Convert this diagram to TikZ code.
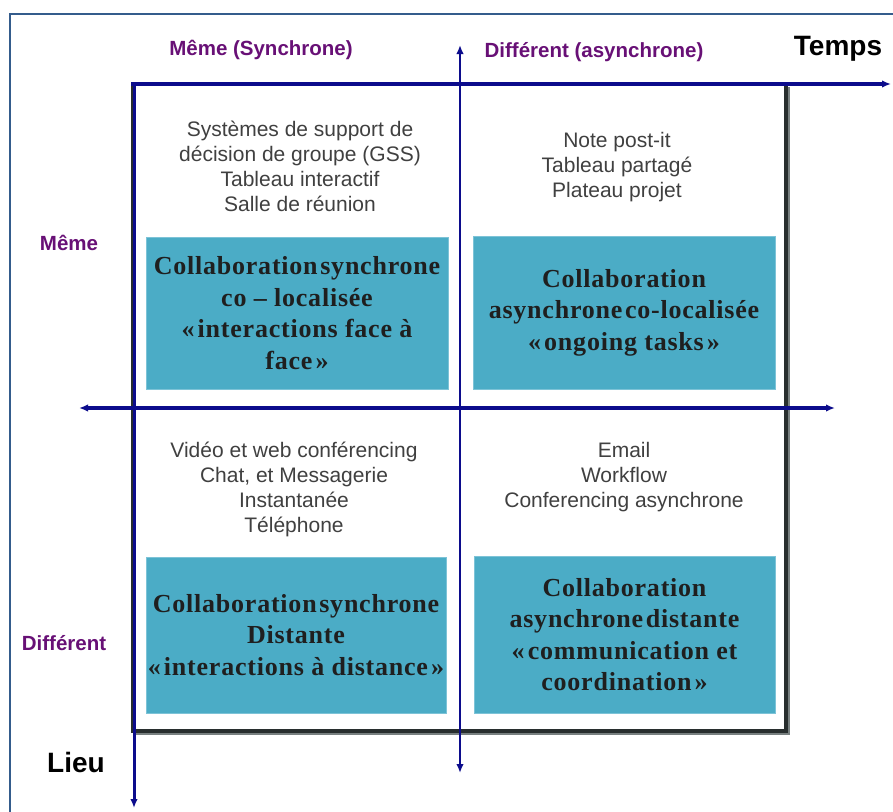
\documentclass[tikz,border=0pt]{standalone}
\usepackage{fontspec}
\setmainfont{Liberation Sans}
\newfontfamily\boxfont[LetterSpace=3]{Liberation Serif}
\usetikzlibrary{arrows.meta}
\definecolor{axisblue}{RGB}{12,12,140}
\definecolor{labpurple}{RGB}{104,16,118}
\definecolor{framecol}{RGB}{52,92,140}
\definecolor{tealfill}{RGB}{75,172,198}
\definecolor{tealedge}{RGB}{125,195,215}
\definecolor{greytxt}{RGB}{64,64,64}
\definecolor{boxline}{RGB}{40,46,46}
\definecolor{shadowcol}{RGB}{120,128,128}
\newcommand{\gql}{«\hspace{0.12em}}
\newcommand{\gqr}{\hspace{0.12em}»}
\tikzset{
  tealbox/.style={fill=tealfill, draw=tealedge, line width=1pt, inner sep=1pt,
    align=center, text=black!88, font=\boxfont\bfseries\fontsize{26}{31.5}\selectfont},
  greynote/.style={align=center, text=greytxt, inner sep=0pt,
    font=\fontsize{21}{25}\selectfont},
  purplelab/.style={text=labpurple, inner sep=0pt, font=\bfseries\fontsize{20.5}{22}\selectfont},
  blacklab/.style={text=black, inner sep=0pt, font=\bfseries\fontsize{28}{30}\selectfont},
  axisline/.style={draw=axisblue},
  tip/.tip={Latex[length=9pt,width=7.5pt]}
}
\begin{document}
\begin{tikzpicture}[x=1pt,y=-1pt]
\useasboundingbox (0,0) rectangle (893,811);
\fill[white] (0,0) rectangle (893,811);
% outer frame
\coordinate (fA) at (10,830);
\coordinate (fB) at (10,14);
\coordinate (fC) at (910,14);
\draw[framecol, line width=2pt] (fA) -- (fB) -- (fC);
% inner box with shadow
\coordinate (bTL) at (133,84);
\coordinate (bBR) at (786,731);
\coordinate (sTR) at (788.5,87);
\coordinate (sBR) at (788.5,733.5);
\coordinate (sBL) at (136,733.5);
\draw[shadowcol, line width=2pt] (sTR) -- (sBR) -- (sBL);
\draw[boxline, line width=3.5pt] (bTL) rectangle (bBR);
% teal boxes
\node[tealbox, minimum width=302pt, minimum height=152pt] (tl) at (297,313)
  {Collaboration\hspace{0.1em}synchrone\\co – localisée\\\gql interactions face à\\face\gqr};
\node[tealbox, minimum width=302pt, minimum height=153pt] (tr) at (624,312.5)
  {Collaboration\\asynchrone\hspace{0.1em}co-localisée\\\gql ongoing tasks\gqr};
\node[tealbox, minimum width=300pt, minimum height=156pt] (bl) at (296,635)
  {Collaboration\hspace{0.1em}synchrone\\Distante\\\gql interactions à distance\gqr};
\node[tealbox, minimum width=301pt, minimum height=157pt] (br) at (624.5,634.5)
  {Collaboration\\asynchrone\hspace{0.1em}distante\\\gql communication et\\coordination\gqr};
% grey notes
\node[greynote] (ntl) at (300,166) {Systèmes de support de\\décision de groupe (GSS)\\Tableau interactif\\Salle de réunion};
\node[greynote] (ntr) at (617,167) {Note post-it\\Tableau partagé\\Plateau projet};
\node[greynote] (nbl) at (294,489) {Vidéo et web conférencing\\Chat, et Messagerie\\Instantanée\\Téléphone};
\node[greynote] (nbr) at (624,477) {Email\\Workflow\\Conferencing asynchrone};
% axes
\coordinate (topL) at (131,84);
\coordinate (topR) at (891,84);
\coordinate (leftT) at (134,83);
\coordinate (leftB) at (134,808);
\coordinate (midT) at (460,45);
\coordinate (midB) at (460,773);
\coordinate (horL) at (79,408);
\coordinate (horR) at (835,408);
\draw[axisline, line width=4pt, -{tip}] (topL) -- (topR);
\draw[axisline, line width=3pt, -{tip}] (leftT) -- (leftB);
\draw[axisline, line width=2.5pt, {tip}-{tip}] (midB) -- (midT);
\draw[axisline, line width=4.5pt, {tip}-{tip}] (horL) -- (horR);
% labels
\node[purplelab] (msync) at (261,50) {Même (Synchrone)};
\node[purplelab] (dasync) at (594,52) {Différent (asynchrone)};
\node[blacklab] (temps) at (838,49) {Temps};
\node[purplelab] (mlieu) at (69,243) {Même};
\node[purplelab] (dlieu) at (64,643) {Différent};
\node[blacklab] (lieu) at (76,762) {Lieu};
\end{tikzpicture}
\end{document}
